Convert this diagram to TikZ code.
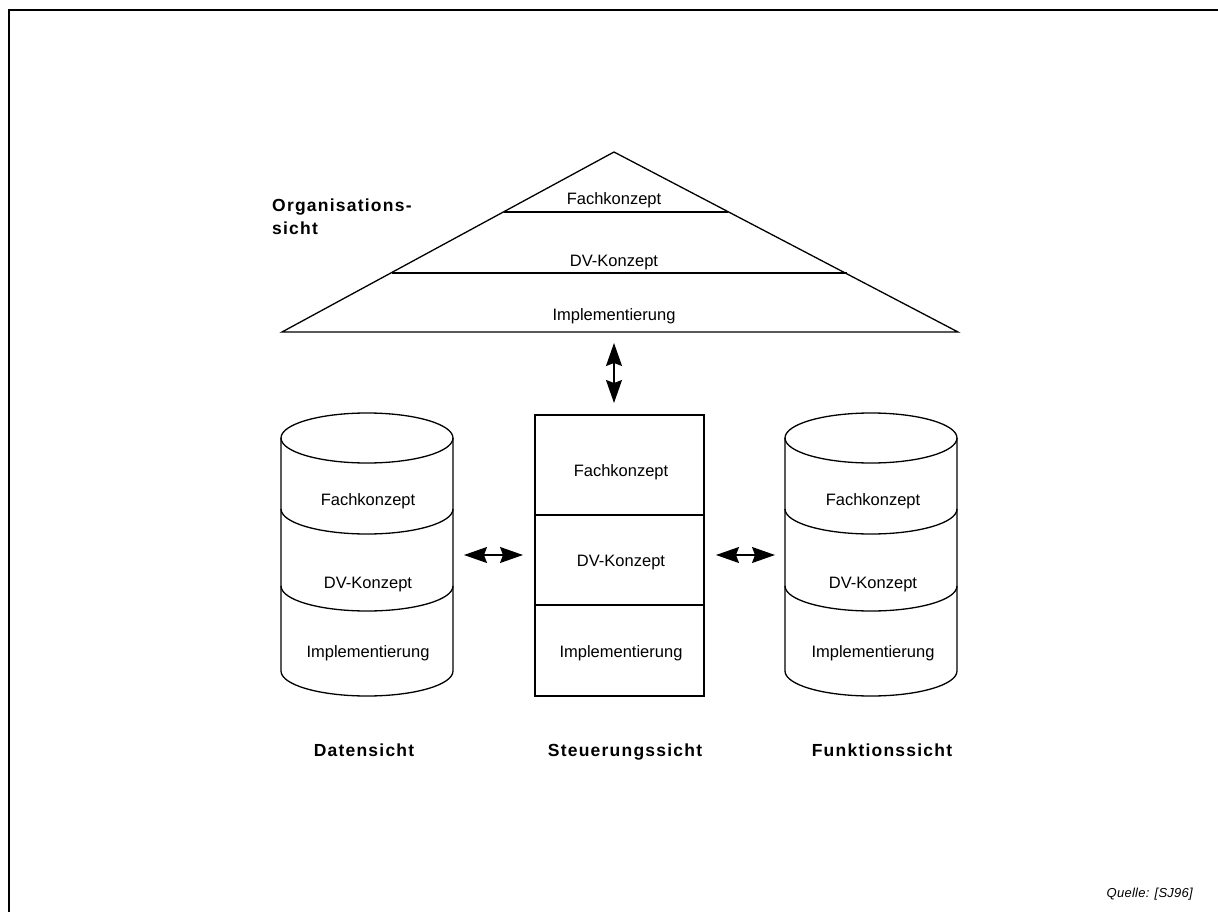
\documentclass[tikz,border=0pt]{standalone}
\usepackage{fontspec}
\setmainfont{Liberation Sans}
\newfontfamily\viewfont[LetterSpace=7]{Liberation Sans}
\newfontfamily\notefont[LetterSpace=2]{Liberation Sans}
\usetikzlibrary{arrows.meta}
\begin{document}
\begin{tikzpicture}[x=1pt,y=-1pt,
  shapeline/.style={line width=1.3pt},
  layer/.style={font=\fontsize{16.5}{20}\selectfont, anchor=base, inner sep=0pt},
  viewlabel/.style={font=\viewfont\bfseries\fontsize{17.5}{21}\selectfont, anchor=base, inner sep=0pt},
  link/.style={line width=1.3pt, {Stealth[length=23pt,width=16pt,inset=3pt]}-{Stealth[length=23pt,width=16pt,inset=3pt]}}]
\useasboundingbox (0,0) rectangle (1218,912);
% frame (top and left edges)
\draw[line width=2.5pt] (1218,10) -- (9,10) -- (9,912);

% Organisationssicht: triangle with three levels
\draw[shapeline] (614,152) -- (282,332) -- (958,332) -- cycle;
\draw[shapeline] (504,212) -- (728,212);
\draw[shapeline] (392,273) -- (847,273);
\node[layer] (oF) at (614,205) {Fachkonzept};
\node[layer] (oD) at (614,266.5) {DV-Konzept};
\node[layer] (oI) at (614,320) {Implementierung};
\node[viewlabel, anchor=base west] (orgA) at (272,212) {Organisations-};
\node[viewlabel, anchor=base west] (orgB) at (272,235) {sicht};

% Datensicht: cylinder
\draw[shapeline] (281,438) -- (281,671) arc[start angle=180,end angle=360,x radius=86,y radius=-25] -- (453,438);
\draw[shapeline] (367,438) ellipse[x radius=86,y radius=25];
\draw[shapeline] (281,509) arc[start angle=180,end angle=360,x radius=86,y radius=-25];
\draw[shapeline] (281,586) arc[start angle=180,end angle=360,x radius=86,y radius=-25];
\node[layer] (dF) at (368,505) {Fachkonzept};
\node[layer] (dD) at (368,588) {DV-Konzept};
\node[layer] (dI) at (368,657) {Implementierung};

% Funktionssicht: cylinder
\draw[shapeline] (785,438) -- (785,671) arc[start angle=180,end angle=360,x radius=86,y radius=-25] -- (957,438);
\draw[shapeline] (871,438) ellipse[x radius=86,y radius=25];
\draw[shapeline] (785,509) arc[start angle=180,end angle=360,x radius=86,y radius=-25];
\draw[shapeline] (785,586) arc[start angle=180,end angle=360,x radius=86,y radius=-25];
\node[layer] (fF) at (873,505) {Fachkonzept};
\node[layer] (fD) at (873,588) {DV-Konzept};
\node[layer] (fI) at (873,657) {Implementierung};

% Steuerungssicht: stacked boxes
\draw[line width=1.5pt] (535,415) rectangle (704,696);
\draw[line width=2.2pt] (535,515) -- (704,515);
\draw[line width=2.2pt] (535,605) -- (704,605);
\node[layer] (sF) at (621,476) {Fachkonzept};
\node[layer] (sD) at (621,566.5) {DV-Konzept};
\node[layer] (sI) at (621,657) {Implementierung};

% view labels
\node[viewlabel] (lD) at (364,756) {Datensicht};
\node[viewlabel] (lS) at (625,756) {Steuerungssicht};
\node[viewlabel] (lF) at (882,756) {Funktionssicht};

% links between the views
\coordinate (vT) at (614,343);
\coordinate (vB) at (614,403);
\coordinate (hL1) at (464,555);
\coordinate (hL2) at (523,555);
\coordinate (hR1) at (716,555);
\coordinate (hR2) at (775,555);
\draw[link] (vT) -- (vB);
\draw[link] (hL1) -- (hL2);
\draw[link] (hR1) -- (hR2);

% source note
\node[font=\notefont\itshape\fontsize{13}{16}\selectfont, anchor=base east, inner sep=0pt] (src) at (1193,897) {Quelle: [SJ96]};
\end{tikzpicture}
\end{document}
